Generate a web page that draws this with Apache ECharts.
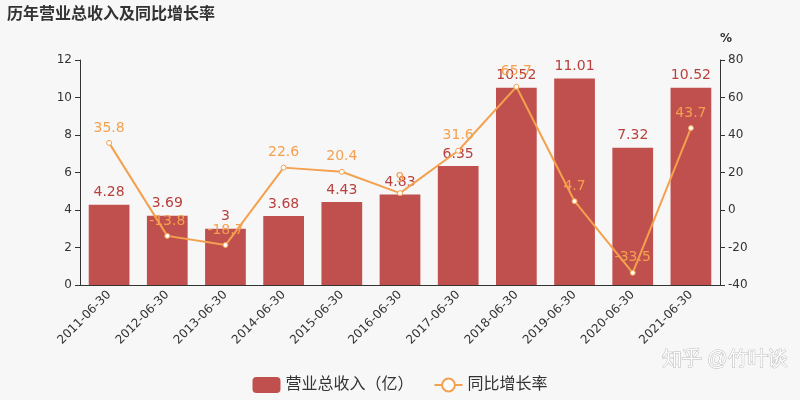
<!DOCTYPE html>
<html lang="zh">
<head>
    <meta charset="UTF-8">
    <title>revenue</title>
    <script src="https://cdn.jsdelivr.net/npm/echarts@6/dist/echarts.min.js"></script>
</head>
<body style="margin:0;background:#f7f7f7">
<div id="main" style="width: 800px;height:400px;"></div>
<script>
    var dates = ['2011-06-30', '2012-06-30', '2013-06-30', '2014-06-30', '2015-06-30', '2016-06-30',
        '2017-06-30', '2018-06-30', '2019-06-30', '2020-06-30', '2021-06-30'];
    var revenue = [4.28, 3.69, 3, 3.68, 4.43, 4.83, 6.35, 10.52, 11.01, 7.32, 10.52];
    var growth = [35.8, -13.8, -18.7, 22.6, 20.4, 9, 31.6, 65.7, 4.7, -33.5, 43.7];

    var chart = echarts.init(document.getElementById('main'));
    var font = 'DejaVu Sans, Noto Sans CJK SC';
    chart.setOption({
        backgroundColor: '#f7f7f7',
        textStyle: {fontFamily: font},
        title: {
            text: '历年营业总收入及同比增长率',
            left: 2, top: 2,
            textStyle: {fontSize: 16, fontWeight: 'bold', color: '#333'}
        },
        graphic: [{
            type: 'text', right: 12, bottom: 30,
            style: {text: '知乎 @竹叶谈', fontSize: 20, fill: '#fff', stroke: '#bbb', lineWidth: 1, font: '20px Noto Sans CJK SC'}
        }],
        legend: {
            bottom: 2,
            itemGap: 20,
            itemWidth: 28, itemHeight: 16,
            textStyle: {fontSize: 16, color: '#333'},
            data: [{name: '营业总收入（亿）', icon: 'roundRect'}, '同比增长率']
        },
        grid: {left: 80, right: 80, top: 60, bottom: 115},
        xAxis: {
            type: 'category',
            data: dates,
            axisLine: {lineStyle: {color: '#333'}},
            axisTick: {alignWithLabel: true},
            axisLabel: {rotate: 45, color: '#333', fontSize: 12, interval: 0}
        },
        yAxis: [{
            type: 'value', min: 0, max: 12, interval: 2,
            splitLine: {show: false},
            axisLine: {show: true, lineStyle: {color: '#333'}},
            axisTick: {show: true},
            axisLabel: {color: '#333', fontSize: 12}
        }, {
            type: 'value', min: -40, max: 80, interval: 20, name: '%',
            nameTextStyle: {color: '#333', fontWeight: 'bold', align: 'left'},
            splitLine: {show: false},
            axisLine: {show: true, lineStyle: {color: '#333'}},
            axisTick: {show: true},
            axisLabel: {color: '#333', fontSize: 12}
        }],
        series: [{
            name: '营业总收入（亿）',
            type: 'bar',
            data: revenue,
            barWidth: '70%',
            itemStyle: {color: '#c0504d'},
            label: {show: true, position: 'top', color: '#b8403d', fontSize: 14}
        }, {
            name: '同比增长率',
            type: 'line',
            yAxisIndex: 1,
            data: growth,
            symbol: 'circle',
            symbolSize: 5,
            lineStyle: {color: '#f4a14f', width: 2},
            itemStyle: {color: '#fff', borderColor: '#f4a14f', borderWidth: 1},
            label: {show: true, position: 'top', color: '#f4a14f', fontSize: 14, distance: 5}
        }]
    });
</script>
</body>
</html>
